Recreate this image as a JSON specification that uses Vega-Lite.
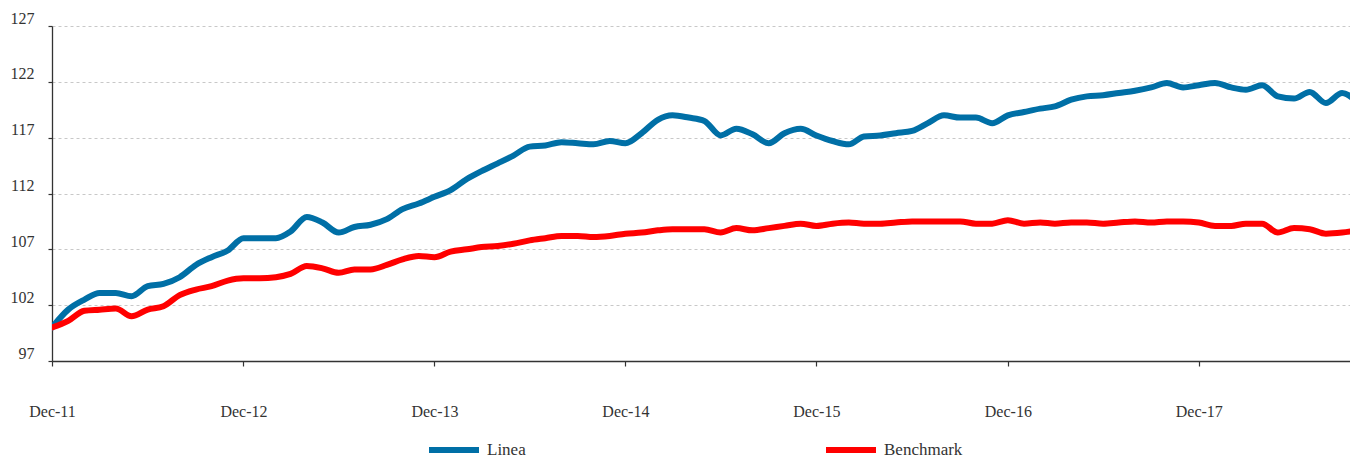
{
  "$schema": "https://vega.github.io/schema/vega-lite/v6.json",
  "width": 1298,
  "height": 335,
  "autosize": {"type": "none"},
  "padding": {"left": 52, "top": 26, "right": 0, "bottom": 98},
  "background": "white",
  "config": {
    "view": {"stroke": null},
    "font": "Liberation Serif"
  },
  "data": {
    "values": [
      {"date": "2011-12-01", "Linea": 100.0, "Benchmark": 100.0},
      {"date": "2012-01-01", "Linea": 101.6, "Benchmark": 100.6},
      {"date": "2012-02-01", "Linea": 102.5, "Benchmark": 101.5},
      {"date": "2012-03-01", "Linea": 103.1, "Benchmark": 101.6},
      {"date": "2012-04-01", "Linea": 103.1, "Benchmark": 101.7},
      {"date": "2012-05-01", "Linea": 102.8, "Benchmark": 101.0},
      {"date": "2012-06-01", "Linea": 103.7, "Benchmark": 101.6},
      {"date": "2012-07-01", "Linea": 103.9, "Benchmark": 101.9},
      {"date": "2012-08-01", "Linea": 104.5, "Benchmark": 102.9},
      {"date": "2012-09-01", "Linea": 105.6, "Benchmark": 103.4},
      {"date": "2012-10-01", "Linea": 106.3, "Benchmark": 103.7},
      {"date": "2012-11-01", "Linea": 106.9, "Benchmark": 104.2},
      {"date": "2012-12-01", "Linea": 108.0, "Benchmark": 104.4},
      {"date": "2013-01-01", "Linea": 108.0, "Benchmark": 104.4},
      {"date": "2013-02-01", "Linea": 108.0, "Benchmark": 104.5},
      {"date": "2013-03-01", "Linea": 108.6, "Benchmark": 104.8},
      {"date": "2013-04-01", "Linea": 109.9, "Benchmark": 105.5},
      {"date": "2013-05-01", "Linea": 109.4, "Benchmark": 105.3},
      {"date": "2013-06-01", "Linea": 108.5, "Benchmark": 104.9},
      {"date": "2013-07-01", "Linea": 109.0, "Benchmark": 105.2},
      {"date": "2013-08-01", "Linea": 109.2, "Benchmark": 105.2},
      {"date": "2013-09-01", "Linea": 109.7, "Benchmark": 105.6},
      {"date": "2013-10-01", "Linea": 110.6, "Benchmark": 106.1},
      {"date": "2013-11-01", "Linea": 111.1, "Benchmark": 106.4},
      {"date": "2013-12-01", "Linea": 111.7, "Benchmark": 106.3},
      {"date": "2014-01-01", "Linea": 112.3, "Benchmark": 106.8},
      {"date": "2014-02-01", "Linea": 113.3, "Benchmark": 107.0},
      {"date": "2014-03-01", "Linea": 114.0, "Benchmark": 107.2},
      {"date": "2014-04-01", "Linea": 114.7, "Benchmark": 107.3},
      {"date": "2014-05-01", "Linea": 115.4, "Benchmark": 107.5},
      {"date": "2014-06-01", "Linea": 116.2, "Benchmark": 107.8},
      {"date": "2014-07-01", "Linea": 116.3, "Benchmark": 108.0},
      {"date": "2014-08-01", "Linea": 116.6, "Benchmark": 108.2},
      {"date": "2014-09-01", "Linea": 116.5, "Benchmark": 108.2},
      {"date": "2014-10-01", "Linea": 116.4, "Benchmark": 108.1},
      {"date": "2014-11-01", "Linea": 116.7, "Benchmark": 108.2},
      {"date": "2014-12-01", "Linea": 116.5, "Benchmark": 108.4},
      {"date": "2015-01-01", "Linea": 117.4, "Benchmark": 108.5},
      {"date": "2015-02-01", "Linea": 118.6, "Benchmark": 108.7},
      {"date": "2015-03-01", "Linea": 119.0, "Benchmark": 108.8},
      {"date": "2015-04-01", "Linea": 118.8, "Benchmark": 108.8},
      {"date": "2015-05-01", "Linea": 118.5, "Benchmark": 108.8},
      {"date": "2015-06-01", "Linea": 117.2, "Benchmark": 108.5},
      {"date": "2015-07-01", "Linea": 117.8, "Benchmark": 108.9},
      {"date": "2015-08-01", "Linea": 117.3, "Benchmark": 108.7},
      {"date": "2015-09-01", "Linea": 116.5, "Benchmark": 108.9},
      {"date": "2015-10-01", "Linea": 117.4, "Benchmark": 109.1},
      {"date": "2015-11-01", "Linea": 117.8, "Benchmark": 109.3},
      {"date": "2015-12-01", "Linea": 117.2, "Benchmark": 109.1},
      {"date": "2016-01-01", "Linea": 116.7, "Benchmark": 109.3},
      {"date": "2016-02-01", "Linea": 116.4, "Benchmark": 109.4},
      {"date": "2016-03-01", "Linea": 117.1, "Benchmark": 109.3},
      {"date": "2016-04-01", "Linea": 117.2, "Benchmark": 109.3},
      {"date": "2016-05-01", "Linea": 117.4, "Benchmark": 109.4},
      {"date": "2016-06-01", "Linea": 117.6, "Benchmark": 109.5},
      {"date": "2016-07-01", "Linea": 118.3, "Benchmark": 109.5},
      {"date": "2016-08-01", "Linea": 119.0, "Benchmark": 109.5},
      {"date": "2016-09-01", "Linea": 118.8, "Benchmark": 109.5},
      {"date": "2016-10-01", "Linea": 118.8, "Benchmark": 109.3},
      {"date": "2016-11-01", "Linea": 118.3, "Benchmark": 109.3},
      {"date": "2016-12-01", "Linea": 119.0, "Benchmark": 109.6},
      {"date": "2017-01-01", "Linea": 119.3, "Benchmark": 109.3},
      {"date": "2017-02-01", "Linea": 119.6, "Benchmark": 109.4},
      {"date": "2017-03-01", "Linea": 119.8, "Benchmark": 109.3},
      {"date": "2017-04-01", "Linea": 120.4, "Benchmark": 109.4},
      {"date": "2017-05-01", "Linea": 120.7, "Benchmark": 109.4},
      {"date": "2017-06-01", "Linea": 120.8, "Benchmark": 109.3},
      {"date": "2017-07-01", "Linea": 121.0, "Benchmark": 109.4},
      {"date": "2017-08-01", "Linea": 121.2, "Benchmark": 109.5},
      {"date": "2017-09-01", "Linea": 121.5, "Benchmark": 109.4},
      {"date": "2017-10-01", "Linea": 121.9, "Benchmark": 109.5},
      {"date": "2017-11-01", "Linea": 121.5, "Benchmark": 109.5},
      {"date": "2017-12-01", "Linea": 121.7, "Benchmark": 109.4},
      {"date": "2018-01-01", "Linea": 121.9, "Benchmark": 109.1},
      {"date": "2018-02-01", "Linea": 121.5, "Benchmark": 109.1},
      {"date": "2018-03-01", "Linea": 121.3, "Benchmark": 109.3},
      {"date": "2018-04-01", "Linea": 121.7, "Benchmark": 109.3},
      {"date": "2018-05-01", "Linea": 120.7, "Benchmark": 108.5},
      {"date": "2018-06-01", "Linea": 120.5, "Benchmark": 108.9},
      {"date": "2018-07-01", "Linea": 121.1, "Benchmark": 108.8},
      {"date": "2018-08-01", "Linea": 120.1, "Benchmark": 108.4},
      {"date": "2018-09-01", "Linea": 121.0, "Benchmark": 108.5},
      {"date": "2018-10-01", "Linea": 120.1, "Benchmark": 108.7}
    ]
  },
  "transform": [
    {"fold": ["Linea", "Benchmark"], "as": ["serie", "valore"]}
  ],
  "mark": {"type": "line", "strokeWidth": 6, "interpolate": "monotone", "clip": true, "strokeCap": "round", "strokeJoin": "round"},
  "encoding": {
    "x": {
      "field": "date",
      "type": "temporal",
      "scale": {
        "type": "utc",
        "domain": [
          {"year": 2011, "month": 12, "date": 1, "utc": true},
          {"year": 2018, "month": 9, "date": 16, "utc": true}
        ]
      },
      "axis": {
        "title": null,
        "values": [
          {"year": 2011, "month": 12, "date": 1, "utc": true},
          {"year": 2012, "month": 12, "date": 1, "utc": true},
          {"year": 2013, "month": 12, "date": 1, "utc": true},
          {"year": 2014, "month": 12, "date": 1, "utc": true},
          {"year": 2015, "month": 12, "date": 1, "utc": true},
          {"year": 2016, "month": 12, "date": 1, "utc": true},
          {"year": 2017, "month": 12, "date": 1, "utc": true}
        ],
        "format": "%b-%y",
        "grid": false,
        "domainColor": "#333333",
        "domainWidth": 1.3,
        "tickColor": "#333333",
        "tickSize": 5,
        "tickWidth": 1.2,
        "labelPadding": 37,
        "labelFont": "Liberation Serif",
        "labelFontSize": 16,
        "labelColor": "#333333",
        "labelFlush": false
      }
    },
    "y": {
      "field": "valore",
      "type": "quantitative",
      "scale": {"domain": [97, 127], "zero": false, "nice": false},
      "axis": {
        "title": null,
        "values": [97, 102, 107, 112, 117, 122, 127],
        "grid": true,
        "gridColor": "#c8c8c8",
        "gridDash": [3, 3],
        "gridWidth": 1,
        "domainColor": "#333333",
        "domainWidth": 1.3,
        "tickColor": "#333333",
        "tickSize": 4,
        "tickWidth": 1.2,
        "labelPadding": 14,
        "labelFont": "Liberation Serif",
        "labelFontSize": 16,
        "labelColor": "#333333",
        "labelBaseline": "bottom"
      }
    },
    "color": {
      "field": "serie",
      "type": "nominal",
      "scale": {"domain": ["Linea", "Benchmark"], "range": ["#006FA6", "#FF0000"]},
      "legend": {
        "title": null,
        "orient": "none",
        "direction": "horizontal",
        "legendX": 374,
        "legendY": 396,
        "symbolType": "stroke",
        "symbolStrokeWidth": 6,
        "symbolSize": 2500,
        "labelFont": "Liberation Serif",
        "labelFontSize": 17,
        "labelColor": "#333333",
        "labelOffset": 5,
        "columnPadding": 288
      }
    }
  }
}
